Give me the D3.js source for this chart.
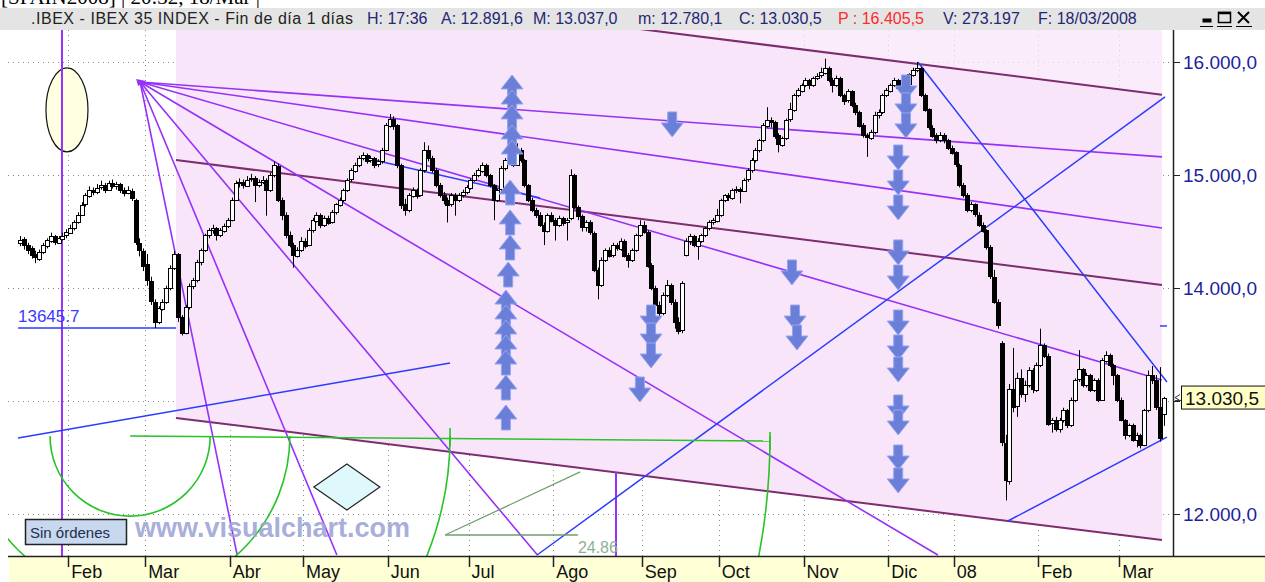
<!DOCTYPE html>
<html lang="es">
<head>
<meta charset="UTF-8">
<title>IBEX 35</title>
<script src="https://d3js.org/d3.v7.min.js"></script>
<style>
  body { margin: 0; background: #fff; }
  svg { display: block; font-family: "Liberation Sans", Arial, sans-serif; }
</style>
</head>
<body>
<script>
const width = 1265, height = 582;

// daily candles [open, high, low, close], Jan 2007 .. 18 Mar 2008
const candles = [
  [14400,14460,14370,14425],[14430,14450,14340,14380],[14380,14400,14300,14340],[14350,14370,14260,14290],[14300,14330,14220,14270],
  [14260,14340,14240,14320],[14320,14400,14300,14380],[14370,14440,14350,14425],[14420,14490,14400,14460],[14460,14470,14380,14410],
  [14400,14460,14390,14440],[14430,14490,14420,14460],[14470,14520,14440,14500],[14490,14560,14480,14530],[14530,14600,14510,14580],
  [14590,14670,14570,14650],[14650,14760,14640,14735],[14740,14840,14720,14820],[14820,14900,14800,14870],[14870,14890,14820,14850],
  [14850,14920,14830,14885],[14890,14950,14870,14910],[14910,14930,14840,14870],[14870,14950,14860,14930],[14930,14960,14880,14900],
  [14900,14940,14870,14920],[14920,14930,14840,14870],[14870,14890,14810,14840],[14840,14900,14830,14870],[14860,14880,14770,14800],
  [14780,14790,14380,14410],[14400,14440,14280,14340],[14330,14350,14150,14200],[14210,14300,14020,14070],[14060,14100,13850,13880],
  [13880,13900,13646,13700],[13700,13840,13680,13820],[13820,13900,13800,13880],[13880,14020,13860,14000],[14000,14200,13980,14180],
  [14180,14330,14160,14300],[14300,14310,13700,13740],[13740,13760,13580,13600],[13600,13850,13590,13830],[13830,14040,13810,14020],
  [14020,14090,13990,14070],[14070,14250,14050,14230],[14230,14350,14200,14340],[14340,14480,14320,14470],[14470,14530,14440,14510],
  [14510,14560,14480,14530],[14530,14540,14420,14470],[14470,14530,14450,14510],[14510,14570,14490,14550],[14550,14620,14530,14600],
  [14600,14800,14590,14780],[14780,14950,14770,14930],[14930,14970,14890,14940],[14940,14960,14880,14910],[14910,14990,14900,14960],
  [14960,15010,14940,14970],[14970,14990,14760,14910],[14910,14960,14890,14940],[14940,14990,14920,14960],[14960,14970,14640,14870],
  [14870,15020,14850,15000],[15000,15120,14980,15090],[15080,15100,14760,14780],[14780,14800,14600,14650],[14650,14670,14440,14470],
  [14470,14500,14360,14380],[14380,14400,14180,14290],[14290,14360,14270,14340],[14340,14450,14320,14420],[14420,14440,14350,14380],
  [14380,14530,14370,14510],[14510,14620,14490,14600],[14600,14670,14580,14650],[14650,14660,14530,14560],[14560,14640,14540,14620],
  [14620,14640,14560,14580],[14580,14690,14570,14670],[14670,14750,14650,14740],[14740,14800,14720,14780],[14780,14880,14760,14870],
  [14870,14970,14850,14960],[14960,15060,14940,15040],[15040,15110,15020,15090],[15090,15170,15070,15150],[15150,15200,15130,15180],
  [15180,15190,15100,15130],[15130,15170,15110,15150],[15150,15160,15060,15090],[15090,15140,15070,15120],[15120,15240,15100,15220],
  [15220,15460,15210,15440],[15440,15540,15420,15500],[15500,15520,15400,15440],[15440,15450,15060,15090],[15090,15100,14700,14740],
  [14740,14790,14640,14690],[14690,14840,14670,14820],[14820,14890,14800,14870],[14870,14880,14790,14820],[14820,15060,14810,15040],
  [15040,15290,15020,15220],[15220,15260,15120,15150],[15150,15170,15020,15040],[15040,15060,14890,14910],[14910,14930,14800,14820],
  [14820,14850,14740,14780],[14780,14800,14580,14740],[14740,14840,14720,14820],[14820,14840,14640,14780],[14780,14840,14760,14820],
  [14820,14870,14800,14850],[14850,14910,14830,14890],[14890,14970,14870,14960],[14960,15020,14940,15000],[15000,15060,14980,15040],
  [15040,15110,15020,15090],[15090,15100,14980,15000],[15000,15010,14890,14910],[14910,14920,14600,14780],[14780,14880,14760,14870],
  [14870,15080,14850,15060],[15060,15150,15040,15130],[15130,15180,15100,15150],[15150,15160,15070,15090],[15090,15280,15080,15220],
  [15220,15240,15110,15130],[15130,15140,14890,14910],[14910,14920,14760,14780],[14780,14800,14670,14690],[14690,14710,14620,14650],
  [14650,14670,14540,14560],[14560,14580,14380,14510],[14510,14660,14490,14650],[14650,14670,14580,14600],[14600,14620,14420,14560],
  [14560,14640,14540,14620],[14620,14630,14550,14580],[14580,14620,14420,14600],[14620,15050,14600,15000],[15000,15010,14700,14720],
  [14720,14730,14600,14640],[14640,14650,14500,14540],[14540,14600,14500,14580],[14580,14600,14470,14490],[14490,14500,14140,14160],
  [14160,14180,13900,14030],[14030,14270,14010,14250],[14250,14350,14230,14340],[14340,14360,14270,14290],[14290,14400,14270,14380],
  [14380,14400,14330,14350],[14350,14440,14330,14420],[14420,14430,14270,14290],[14290,14310,14180,14250],[14250,14350,14230,14340],
  [14340,14480,14320,14470],[14470,14600,14450,14560],[14560,14590,14480,14500],[14500,14510,14180,14200],[14200,14220,13980,14000],
  [14000,14020,13820,13850],[13850,13880,13740,13780],[13780,13960,13760,13940],[13940,14070,13920,14030],[14030,14040,13850,13880],
  [13880,13900,13640,13700],[13700,13740,13590,13620],[13620,14060,13600,14040],[14300,14440,14280,14420],[14420,14480,14380,14460],
  [14460,14470,14360,14380],[14380,14440,14250,14420],[14420,14480,14400,14470],[14470,14540,14450,14530],[14530,14600,14510,14580],
  [14580,14620,14560,14600],[14600,14700,14580,14650],[14650,14790,14630,14780],[14780,14830,14760,14820],[14820,14840,14770,14800],
  [14800,14880,14780,14870],[14870,14900,14840,14880],[14880,14890,14750,14860],[14860,14970,14850,14960],[14960,15060,14940,15040],
  [15040,15150,15020,15130],[15130,15240,15110,15220],[15220,15320,15200,15310],[15310,15460,15290,15440],[15440,15600,15420,15490],
  [15490,15510,15420,15470],[15470,15480,15320,15350],[15350,15370,15200,15270],[15270,15340,15250,15330],[15330,15500,15310,15490],
  [15490,15640,15470,15580],[15580,15720,15560,15710],[15710,15770,15690,15750],[15750,15810,15730,15800],[15800,15860,15780,15840],
  [15840,15850,15760,15800],[15800,15870,15780,15860],[15860,15900,15840,15880],[15880,15950,15860,15910],[15910,16030,15890,15950],
  [15950,15960,15820,15840],[15840,15860,15730,15800],[15800,15880,15780,15860],[15860,15870,15690,15710],[15710,15720,15620,15660],
  [15660,15760,15640,15740],[15740,15750,15600,15620],[15620,15640,15530,15560],[15560,15570,15420,15440],[15440,15460,15330,15350],
  [15350,15370,15160,15330],[15330,15400,15310,15380],[15380,15560,15360,15530],[15530,15580,15500,15560],[15560,15720,15540,15710],
  [15710,15770,15690,15750],[15750,15810,15730,15800],[15800,15860,15780,15840],[15840,15850,15750,15770],[15770,15840,15750,15820],
  [15820,15830,15760,15800],[15800,15900,15780,15890],[15890,15950,15870,15930],[15930,16000,15910,15950],[15950,15960,15690,15710],
  [15710,15720,15560,15580],[15580,15590,15400,15420],[15420,15440,15330,15350],[15350,15370,15280,15310],[15310,15380,15290,15350],
  [15350,15370,15280,15310],[15310,15320,15220,15240],[15240,15260,15180,15200],[15200,15210,15070,15090],[15090,15100,14890,14910],
  [14910,14930,14800,14820],[14820,14840,14670,14690],[14690,14760,14670,14740],[14740,14750,14630,14650],[14650,14670,14540,14560],
  [14560,14580,14490,14510],[14510,14520,14340,14360],[14360,14380,14080,14100],[14100,14160,13860,13880],[13880,13900,13640,13680],
  [13510,13530,12600,12630],[12630,12700,12120,12300],[12300,13150,12260,13110],[13110,13470,12900,12950],[12950,13250,12860,13200],
  [13200,13280,13030,13060],[13060,13180,12990,13140],[13140,13300,13120,13270],[13270,13290,13070,13100],[13100,13340,13080,13320],
  [13320,13640,13300,13500],[13500,13510,13380,13400],[13400,13420,12780,12800],[12800,12850,12720,12830],[12830,12860,12730,12750],
  [12750,12850,12720,12830],[12830,12940,12810,12920],[12920,12930,12760,12790],[12790,13030,12770,13010],[13010,13200,12990,13190],
  [13190,13450,13170,13280],[13280,13290,13120,13140],[13140,13250,13120,13230],[13230,13240,13080,13100],[13100,13200,13080,13190],
  [13190,13200,12990,13010],[13010,13380,13000,13360],[13360,13440,13340,13410],[13410,13420,13300,13320],[13320,13330,13140,13230],
  [13230,13240,12990,13010],[13010,13030,12820,12830],[12830,12840,12660,12700],[12700,12800,12680,12790],[12790,12800,12640,12660],
  [12660,12720,12590,12700],[12700,12710,12580,12610],[12610,12930,12600,12920],[12920,13270,12900,13230],[13230,13310,13150,13190],
  [13190,13230,12920,12950],[12950,13300,12640,12680],[12891.6,13037,12780.1,13030.5]
];

const monthLabels = ["Feb","Mar","Abr","May","Jun","Jul","Ago","Sep","Oct","Nov","Dic","08","Feb","Mar"];
const monthStart  = [13, 33, 55, 74, 96, 117, 139, 162, 182, 204, 226, 243, 265, 286];
const priceTicks  = [12000, 13000, 14000, 15000, 16000];
const lastPrice   = 13030.5;

// drawing objects, [idx1, price1, idx2, price2]
const channelLines = [[40.5,16808,296.6,15711],[40.5,15133,296.6,14027],[40.5,12850,296.6,11770]];
const fanOrigin = [31.2, 15823];
const fanEnds = [[296.6,15160],[296.6,14531],[296.6,13186],[238.4,11637],[134.4,11637],[82.3,11637],[56.4,11637]];
const blueLines = [[-0.5,13645.7,40.5,13645.7],[-0.5,12673,111.7,13336],[134.3,11637,297.4,15691],
                   [233.2,16000,297.9,13168],[256.6,11938,297.9,12681],[296.1,13664,297.9,13664],[89.6,15151,135.1,14797]];
const supportLabel = "13645.7";
const fibCenter = [28.6, 12690];
const fibEnds = [49.4, 70.1, 111.7, 194.8];
const fibBase = [28.6, 12690, 194.8, 12646];
const fibTicks = [[111.7,12761,12602],[194.8,12726,12566]];
const angleLines = [[110.4,11814,145.5,12372],[110.4,11814,144.9,11814]];
const angleLabel = "24.86";
const vLines = [[10.9, 17000, 11000],[154.8, 12372, 11000]];
const ellipseAt = [12.2, 15576];
const diamondAt = [84.9, 12239];

const upArrowIdx = [127.8,127.8,127.8,127.8,127.8,127.3,127.3,127.3,126.8,126.2,126.2,126.2,126.2,126.2,126.2,126.2];
const upArrowTop = [15885,15752,15620,15443,15310,14956,14691,14469,14230,13982,13850,13717,13584,13451,13230,12965];
const downArrowIdx = [169.4,163.9,163.9,163.9,161.0,200.5,201.3,201.8,230.1,230.1,230.1,
                      228.1,228.1,228.1,228.1,228.1,228.1,228.1,228.1,228.1,228.1,228.1,228.1];
const downArrowTip = [15337,13628,13469,13292,12991,14027,13628,13451,15664,15505,15328,
                      15044,14823,14602,14204,13982,13584,13363,13168,12832,12699,12389,12186];

const headerText = [".IBEX - IBEX 35 INDEX - Fin de día 1 días","H: 17:36","A: 12.891,6","M: 13.037,0",
                    "m: 12.780,1","C: 13.030,5","P : 16.405,5","V: 273.197","F: 18/03/2008"];
const headerX = [31, 367, 441, 533, 638, 739, 838, 943, 1038];

const L = 8, R = 1173, T = 30, B = 556;

const x = d3.scaleLinear().domain([0, 297]).range([20, 1163.5]);
const y = d3.scaleLinear().domain([12000, 16000]).range([514, 62]);
const fmt = d3.formatLocale({decimal: ",", thousands: ".", grouping: [3], currency: ["", ""]}).format(",.1f");

const svg = d3.select("body").append("svg").attr("width", width).attr("height", height);
svg.append("rect").attr("width", width).attr("height", height).attr("fill", "#fff");

svg.append("defs").append("clipPath").attr("id", "plot")
   .append("rect").attr("x", L).attr("y", T).attr("width", R - L).attr("height", B - T);

// title strip cut at the top, then the header bar
svg.append("text").attr("x", 1).attr("y", 4).attr("font-family", "Liberation Serif, serif")
   .attr("font-size", 21).attr("fill", "#000").text("[SPAIN2008] | 20:32, 18/Mar |");
svg.append("rect").attr("x", 0).attr("y", 8).attr("width", width).attr("height", T - 8).attr("fill", "#e4e4e4");
svg.selectAll("text.hdr").data(headerText).join("text").attr("class", "hdr")
   .attr("x", (d, i) => headerX[i]).attr("y", 24).attr("font-size", 16)
   .attr("textLength", (d, i) => i === 0 ? 322 : null)
   .attr("fill", (d, i) => i === 0 ? "#222" : (d.startsWith("P") ? "#ff2a2a" : "#262676"))
   .text(d => d);
// window buttons
const btn = svg.append("g").attr("stroke", "#000").attr("fill", "none");
btn.append("rect").attr("x", 1203).attr("y", 19).attr("width", 8).attr("height", 3).attr("fill", "#000");
btn.append("rect").attr("x", 1218.5).attr("y", 12.5).attr("width", 12).attr("height", 10).attr("stroke-width", 1.5);
btn.append("line").attr("x1", 1218).attr("x2", 1231).attr("y1", 13).attr("y2", 13).attr("stroke-width", 2.5);
btn.append("path").attr("d", "M1238,12L1249,23M1249,12L1238,23").attr("stroke-width", 2);
btn.append("path").attr("d", "M1200,26.5H1213M1217,26.5H1232M1236,26.5H1252").attr("stroke-width", 1);

const plot = svg.append("g").attr("clip-path", "url(#plot)");

// dotted grid
const grid = plot.append("g").attr("stroke", "#8a8a8a").attr("stroke-dasharray", "1,4");
grid.selectAll("line.h").data(priceTicks).join("line")
    .attr("x1", L).attr("x2", R).attr("y1", d => Math.round(y(d)) + 0.5).attr("y2", d => Math.round(y(d)) + 0.5);
grid.selectAll("line.v").data(monthStart).join("line")
    .attr("x1", d => Math.round(x(d - 0.5)) + 0.5).attr("x2", d => Math.round(x(d - 0.5)) + 0.5)
    .attr("y1", T).attr("y2", B);

// pink regression area
const lp = (ln, idx) => ln[1] + (idx - ln[0]) * (ln[3] - ln[1]) / (ln[2] - ln[0]);
const up = channelLines[0], lo = channelLines[2];
const xa = up[0], xb = up[2];
plot.append("path").attr("fill", "#f9e5f9").attr("fill-opacity", 0.75)
    .attr("d", `M${x(xa)},${T - 200}L${x(xb)},${T - 200}L${x(xb)},${y(up[3])}L${x(xa)},${y(up[1])}Z`);
plot.append("path").attr("fill", "#f9e5f9")
    .attr("d", `M${x(xa)},${y(up[1])}L${x(xb)},${y(up[3])}L${x(xb)},${y(lp(lo, xb))}L${x(xa)},${y(lp(lo, xa))}Z`);

// ellipse and its vertical line
plot.append("ellipse").attr("cx", x(ellipseAt[0])).attr("cy", y(ellipseAt[1])).attr("rx", 21).attr("ry", 42)
    .attr("fill", "#ffffe2").attr("stroke", "#111").attr("stroke-width", 1.2);

const seg = (g, data, color, w) => g.selectAll(null).data(data).join("line")
    .attr("x1", d => x(d[0])).attr("y1", d => y(d[1])).attr("x2", d => x(d[2])).attr("y2", d => y(d[3]))
    .attr("stroke", color).attr("stroke-width", w);

seg(plot.append("g"), channelLines, "#7d2d6e", 2);
seg(plot.append("g"), fanEnds.map(e => [fanOrigin[0], fanOrigin[1], e[0], e[1]]), "#9630fa", 1.6);
plot.append("path").attr("fill", "#9630fa")
    .attr("d", `M${x(fanOrigin[0]) - 4},${y(fanOrigin[1]) - 3}l10,2l-8,5z`);
plot.selectAll("line.vl").data(vLines).join("line")
    .attr("x1", d => x(d[0])).attr("x2", d => x(d[0])).attr("y1", d => y(d[1])).attr("y2", d => y(d[2]))
    .attr("stroke", "#9630fa").attr("stroke-width", 2);
seg(plot.append("g"), blueLines, "#2a3cff", 1.5);

// Fibonacci arcs
const gf = plot.append("g").attr("stroke", "#26c426").attr("stroke-width", 1.6).attr("fill", "none");
const cx0 = x(fibCenter[0]), cy0 = y(fibCenter[1]);
gf.selectAll("path").data(fibEnds).join("path").attr("d", e => {
  const p = d3.path();
  const r = x(e) - cx0;
  p.moveTo(cx0 - r, cy0);
  p.arc(cx0, cy0, r, Math.PI, 0, true);
  return p.toString();
});
seg(gf, [fibBase], "#26c426", 1.6);
gf.selectAll("line.t").data(fibTicks).join("line")
  .attr("x1", d => x(d[0])).attr("x2", d => x(d[0])).attr("y1", d => y(d[1])).attr("y2", d => y(d[2]));

seg(plot.append("g"), angleLines, "#6f9f6f", 1.3);
plot.append("text").attr("x", x(angleLines[1][2])).attr("y", 553).attr("font-size", 16)
    .attr("fill", "#8fb08f").text(angleLabel);

plot.append("text").attr("x", 18).attr("y", y(13645.7) - 6).attr("font-size", 17)
    .attr("fill", "#3a3aff").text(supportLabel);

// candles
const gc = plot.append("g");
gc.selectAll("line").data(candles).join("line")
  .attr("x1", (d, i) => Math.round(x(i)) + 0.5).attr("x2", (d, i) => Math.round(x(i)) + 0.5)
  .attr("y1", d => y(d[1])).attr("y2", d => y(d[2])).attr("stroke", "#000").attr("stroke-width", 1);
gc.selectAll("rect").data(candles).join("rect")
  .attr("x", (d, i) => Math.round(x(i)) - 1.5)
  .attr("y", d => Math.round(y(Math.max(d[0], d[3]))) + 0.5)
  .attr("width", 4)
  .attr("height", d => Math.max(1, Math.round(Math.abs(y(d[0]) - y(d[3])))))
  .attr("fill", d => d[3] >= d[0] ? "#fff" : "#000")
  .attr("stroke", "#000").attr("stroke-width", 1);

// signal arrows
const ga = plot.append("g").attr("fill", "#6b7fd9").attr("stroke", "#93a5f2").attr("stroke-width", 1);
ga.selectAll("path.u").data(upArrowIdx).join("path")
  .attr("transform", (d, i) => `translate(${x(d)},${y(upArrowTop[i])})`)
  .attr("d", "M0,0L11,14L4.5,14L4.5,25L-4.5,25L-4.5,14L-11,14Z");
ga.selectAll("path.d").data(downArrowIdx).join("path")
  .attr("transform", (d, i) => `translate(${x(d)},${y(downArrowTip[i])})`)
  .attr("d", "M0,0L11,-14L4.5,-14L4.5,-25L-4.5,-25L-4.5,-14L-11,-14Z");

// diamond
const dx = x(diamondAt[0]), dy = y(diamondAt[1]);
plot.append("path").attr("d", `M${dx - 33},${dy}L${dx},${dy - 23}L${dx + 33},${dy}L${dx},${dy + 23}Z`)
    .attr("fill", "#def8fb").attr("stroke", "#222").attr("stroke-width", 1.2);

// watermark and order box
svg.append("text").attr("x", 135).attr("y", 537).attr("font-size", 27).attr("font-weight", "bold")
   .attr("fill", "#9ca4d6").attr("fill-opacity", 0.9).text("www.visualchart.com");
svg.append("rect").attr("x", 25.5).attr("y", 519.5).attr("width", 101).attr("height", 25)
   .attr("fill", "#c8d8ee").attr("stroke", "#222").attr("stroke-width", 1.5);
svg.append("text").attr("x", 30).attr("y", 538).attr("font-size", 15).attr("fill", "#1e2f4a").text("Sin órdenes");

// bottom date axis
svg.append("rect").attr("x", 9).attr("y", B).attr("width", width - 9).attr("height", height - B).attr("fill", "#ffffd6");
svg.append("line").attr("x1", L).attr("x2", width).attr("y1", B + 0.5).attr("y2", B + 0.5).attr("stroke", "#222").attr("stroke-width", 1.5);
const gx = svg.append("g");
gx.selectAll("line").data(monthStart).join("line")
  .attr("x1", d => Math.round(x(d - 0.5)) + 0.5).attr("x2", d => Math.round(x(d - 0.5)) + 0.5)
  .attr("y1", B).attr("y2", B + 11).attr("stroke", "#222").attr("stroke-width", 1.5);
gx.selectAll("text").data(monthStart).join("text")
  .attr("x", d => x(d - 0.5) + 3).attr("y", 578).attr("font-size", 18).attr("fill", "#111")
  .text((d, i) => monthLabels[i]);

// right price axis (13.000,0 sits under the last price box)
svg.append("line").attr("x1", R + 0.5).attr("x2", R + 0.5).attr("y1", T).attr("y2", B).attr("stroke", "#222").attr("stroke-width", 1.5);
const gy = svg.append("g");
gy.selectAll("line").data(priceTicks).join("line")
  .attr("x1", R).attr("x2", R + 7).attr("y1", d => Math.round(y(d)) + 0.5).attr("y2", d => Math.round(y(d)) + 0.5)
  .attr("stroke", "#222");
gy.selectAll("text").data(priceTicks.filter(v => Math.abs(y(v) - y(lastPrice)) > 20)).join("text")
  .attr("x", 1183).attr("y", d => y(d) + 7).attr("font-size", 19).attr("fill", "#1e1e9e")
  .text(d => fmt(d));

// last price box
const ly = y(lastPrice);
svg.append("rect").attr("x", 1181.5).attr("y", ly - 11.5).attr("width", 90).attr("height", 23)
   .attr("fill", "#ffffc6").attr("stroke", "#111");
svg.append("text").attr("x", 1185).attr("y", ly + 7).attr("font-size", 19).attr("fill", "#111").text(fmt(lastPrice));
svg.append("path").attr("d", `M${R + 2},${ly}l5,-3m-5,3l5,3m-5,0h6`).attr("stroke", "#333").attr("fill", "none");
</script>
</body>
</html>
